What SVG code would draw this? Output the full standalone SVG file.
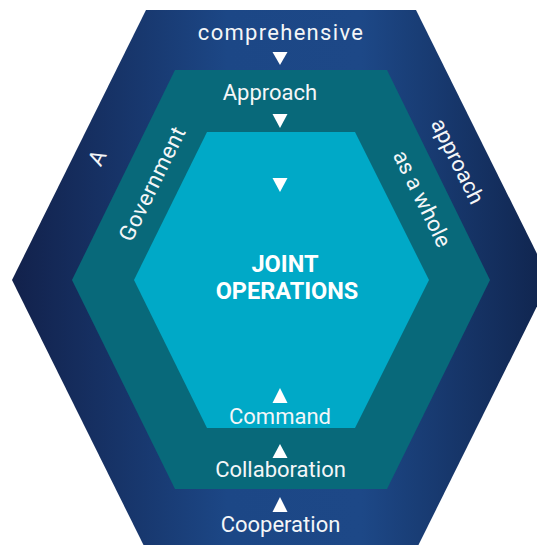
<svg xmlns="http://www.w3.org/2000/svg" width="537" height="545" viewBox="0 0 537 545">
  <defs>
    <linearGradient id="outerFill" gradientUnits="userSpaceOnUse" x1="12" y1="0" x2="550" y2="0">
      <stop offset="0" stop-color="#12214b"/>
      <stop offset="0.4" stop-color="#1c4786"/>
      <stop offset="0.65" stop-color="#1d4887"/>
      <stop offset="1" stop-color="#10244d"/>
    </linearGradient>
  </defs>
  <style>
    .lbl { font-family: Roboto, "Liberation Sans", sans-serif; font-size: 22px; fill: #f4f6f8; text-anchor: middle; }
    .title { font-family: Roboto, "Liberation Sans", sans-serif; font-size: 23.5px; font-weight: bold; fill: #ffffff; text-anchor: middle; }
    .tri { fill: #ffffff; }
  </style>

  <rect width="537" height="545" fill="#ffffff"/>

  <!-- outer ring: comprehensive approach -->
  <g id="outer">
    <polygon points="146,10 416,10 550,280 416,550 146,550 12,280" fill="url(#outerFill)"/>
    <text class="lbl" x="281" y="40" font-size="23.5" letter-spacing="1.3">comprehensive</text>
    <text class="lbl" transform="translate(104,161) rotate(-63.6)">A</text>
    <text class="lbl" transform="translate(451,164.5) rotate(63.6)">approach</text>
    <text class="lbl" x="280.5" y="532">Cooperation</text>
  </g>

  <!-- middle ring: government as a whole -->
  <g id="middle">
    <polygon points="175,70 387,70 490,280 387,489 175,489 72,280" fill="#08697a"/>
    <text class="lbl" x="270" y="100">Approach</text>
    <text class="lbl" letter-spacing="0.5" transform="translate(159,187) rotate(-63.9)">Government</text>
    <text class="lbl" transform="translate(415.5,202) rotate(63.9)">as a whole</text>
    <text class="lbl" x="280.5" y="477">Collaboration</text>
  </g>

  <!-- core: joint operations -->
  <g id="core">
    <polygon points="207,132 355,132 429,280 355,428 207,428 134,280" fill="#00a9c7"/>
    <text class="title" x="285" y="272">JOINT</text>
    <text class="title" x="287" y="299">OPERATIONS</text>
    <text class="lbl" x="280" y="424">Command</text>
  </g>

  <!-- flow arrows between the rings -->
  <g id="connectors">
    <polygon class="tri" points="272.5,52 287.5,52 280,65"/>
    <polygon class="tri" points="272.5,114 287.5,114 280,128"/>
    <polygon class="tri" points="272.5,178 287.5,178 280,192"/>
    <polygon class="tri" points="272.5,403 287.5,403 280,388"/>
    <polygon class="tri" points="272.5,458 287.5,458 280,444"/>
    <polygon class="tri" points="272.5,512 287.5,512 280,497"/>
  </g>
</svg>
